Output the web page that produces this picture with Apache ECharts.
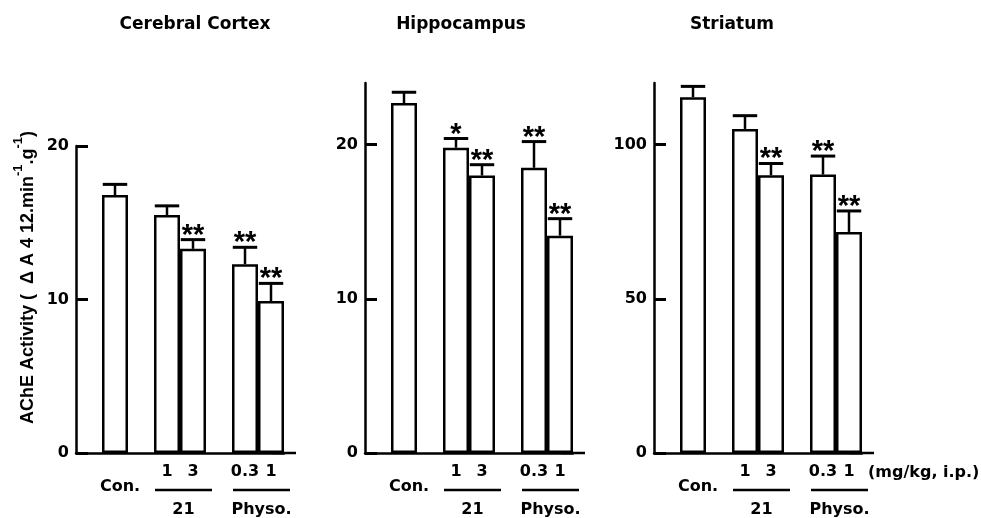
<!DOCTYPE html>
<html>
<head>
<meta charset="utf-8">
<script src="https://cdn.jsdelivr.net/npm/echarts@6/dist/echarts.min.js"></script>
<style>html,body{margin:0;padding:0;background:#fff;}#c{width:981px;height:518px;}</style>
</head>
<body>
<div id="c"></div>
<script>
// ---- data ----
const categories = ['', 'Con.', '', '1', '3', '', '0.3', '1'];
const barSlots = [1, 3, 4, 6, 7];
const regions = ['Cerebral Cortex', 'Hippocampus', 'Striatum'];
const cortexMean = [16.8, 15.5, 13.3, 12.3, 9.9];
const cortexSem = [0.7, 0.6, 0.6, 1.1, 1.15];
const cortexSig = ['', '', '**', '**', '**'];
const hippoMean = [22.7, 19.8, 18.0, 18.5, 14.1];
const hippoSem = [0.7, 0.6, 0.7, 1.7, 1.1];
const hippoSig = ['', '*', '**', '**', '**'];
const striatumMean = [115.4, 105.1, 90.1, 90.3, 71.7];
const striatumSem = [3.5, 4.3, 3.8, 6.0, 6.8];
const striatumSig = ['', '', '**', '**', '**'];
const yMax = [20, 24, 120];
const cortexTicks = [0, 10, 20];
const hippoTicks = [0, 10, 20];
const striatumTicks = [0, 50, 100];
const groupNames = ['21', 'Physo.'];
const groupFrom = [3, 6];
const groupTo = [4, 7];
const doseUnit = '(mg/kg, i.p.)';
const yName = 'AChE Activity';

const means = [cortexMean, hippoMean, striatumMean];
const sems = [cortexSem, hippoSem, striatumSem];
const sigs = [cortexSig, hippoSig, striatumSig];
const ticks = [cortexTicks, hippoTicks, striatumTicks];

// ---- layout ----
const gridLeft = [76, 365, 654];
const gridTop = [146, 83, 83];
const gridBottomY = 453;
const titleX = [195, 461, 732];
const FONT = 'DejaVu Sans';
const LABEL_FONT = 'bold 16px "DejaVu Sans"';

const chart = echarts.init(document.getElementById('c'));

const grids = [], xAxes = [], yAxes = [], series = [];
for (let i = 0; i < 3; i++) {
  grids.push({left: gridLeft[i], top: gridTop[i], width: 208, height: gridBottomY - gridTop[i]});
  xAxes.push({
    gridIndex: i, type: 'category', data: categories,
    axisLine: {lineStyle: {color: '#000', width: 2.5}, symbol: ['none', 'rect'], symbolSize: [2.5, 24]},
    axisTick: {show: false},
    axisLabel: {
      interval: 0, margin: 11, color: '#000',
      formatter: v => v === 'Con.' ? '{c|Con.}' : '{d|' + v + '}',
      rich: {
        d: {fontSize: 16, fontWeight: 'bold', fontFamily: FONT, color: '#000'},
        c: {fontSize: 16, fontWeight: 'bold', fontFamily: FONT, color: '#000', padding: [15, 0, 0, 10]}
      }
    }
  });
  const ya = {
    gridIndex: i, type: 'value', min: 0, max: yMax[i],
    splitLine: {show: false},
    axisLine: {show: true, onZero: false, lineStyle: {color: '#000', width: 2.5}},
    axisTick: {show: true, inside: true, length: 12, lineStyle: {color: '#000', width: 3}, customValues: ticks[i]},
    axisLabel: {color: '#000', fontSize: 16, fontWeight: 'bold', fontFamily: FONT, margin: 7, customValues: ticks[i]}
  };
  if (i === 0) {
    ya.name = '{n|' + yName + ' (  Δ A 4 12.min}{s|-1}{n|.g}{s|-1}{n|)}';
    ya.nameLocation = 'middle';
    ya.nameRotate = 90;
    ya.nameGap = 39;
    ya.nameTextStyle = {
      color: '#000', padding: [0, 0, 0, 44],
      rich: {
        n: {fontSize: 18, fontFamily: 'Liberation Sans', fontWeight: 'bold', color: '#000', lineHeight: 25, verticalAlign: 'bottom'},
        s: {fontSize: 13, fontFamily: 'Liberation Sans', fontWeight: 'bold', color: '#000', lineHeight: 15, verticalAlign: 'top'}
      }
    };
  }
  yAxes.push(ya);

  const mean = means[i], sem = sems[i], sig = sigs[i];
  series.push({
    type: 'bar', xAxisIndex: i, yAxisIndex: i, barWidth: '100%', silent: true,
    itemStyle: {color: '#fff', borderColor: '#000', borderWidth: 2.5},
    data: categories.map((c, k) => { const j = barSlots.indexOf(k); return j < 0 ? '-' : mean[j]; })
  });
  series.push({
    type: 'custom', xAxisIndex: i, yAxisIndex: i, clip: false, silent: true, z: 5,
    encode: {x: 0, y: 1},
    data: barSlots.map((s, j) => [s, mean[j], sem[j]]),
    renderItem: (params, api) => {
      const x = api.value(0), v = api.value(1), e = api.value(2);
      const base = api.coord([x, v]);
      const top = api.coord([x, v + e]);
      const half = api.size([1, 0])[0] * 0.47;
      return {type: 'group', children: [
        {type: 'line', shape: {x1: base[0], y1: base[1], x2: top[0], y2: top[1]}, style: {stroke: '#000', lineWidth: 2.5}},
        {type: 'line', shape: {x1: top[0] - half, y1: top[1], x2: top[0] + half, y2: top[1]}, style: {stroke: '#000', lineWidth: 3}},
        {type: 'text', x: top[0], y: top[1] - 4, style: {text: sig[params.dataIndex], fill: '#000', font: 'bold 29px "Liberation Sans"', align: 'center', verticalAlign: 'middle'}}
      ]};
    }
  });
  series.push({
    type: 'custom', xAxisIndex: i, yAxisIndex: i, clip: false, silent: true,
    encode: {x: [0, 1], y: 2},
    data: groupNames.map((g, j) => [groupFrom[j], groupTo[j], 0]),
    renderItem: (params, api) => {
      const a = api.coord([api.value(0), 0]);
      const b = api.coord([api.value(1), 0]);
      const w = api.size([1, 0])[0];
      const x1 = a[0] - w / 2 + 1, x2 = b[0] + w / 2 + 6;
      const children = [
        {type: 'line', shape: {x1: x1, y1: a[1] + 37, x2: x2, y2: a[1] + 37}, style: {stroke: '#000', lineWidth: 2.5}},
        {type: 'text', x: (x1 + x2) / 2, y: a[1] + 57, style: {text: groupNames[params.dataIndex], fill: '#000', font: LABEL_FONT, align: 'center', verticalAlign: 'middle'}}
      ];
      if (i === 2 && params.dataIndex === groupNames.length - 1) {
        children.push({type: 'text', x: b[0] + w / 2 + 6, y: b[1] + 20, style: {text: doseUnit, fill: '#000', font: LABEL_FONT, align: 'left', verticalAlign: 'middle'}});
      }
      return {type: 'group', children: children};
    }
  });
}

chart.setOption({
  backgroundColor: '#fff',
  animation: false,
  grid: grids, xAxis: xAxes, yAxis: yAxes, series: series,
  graphic: regions.map((r, i) => ({
    type: 'text', x: titleX[i], y: 25,
    style: {text: r, fill: '#000', font: 'bold 17px "' + FONT + '"', align: 'center', verticalAlign: 'middle'}
  }))
});
</script>
</body>
</html>
